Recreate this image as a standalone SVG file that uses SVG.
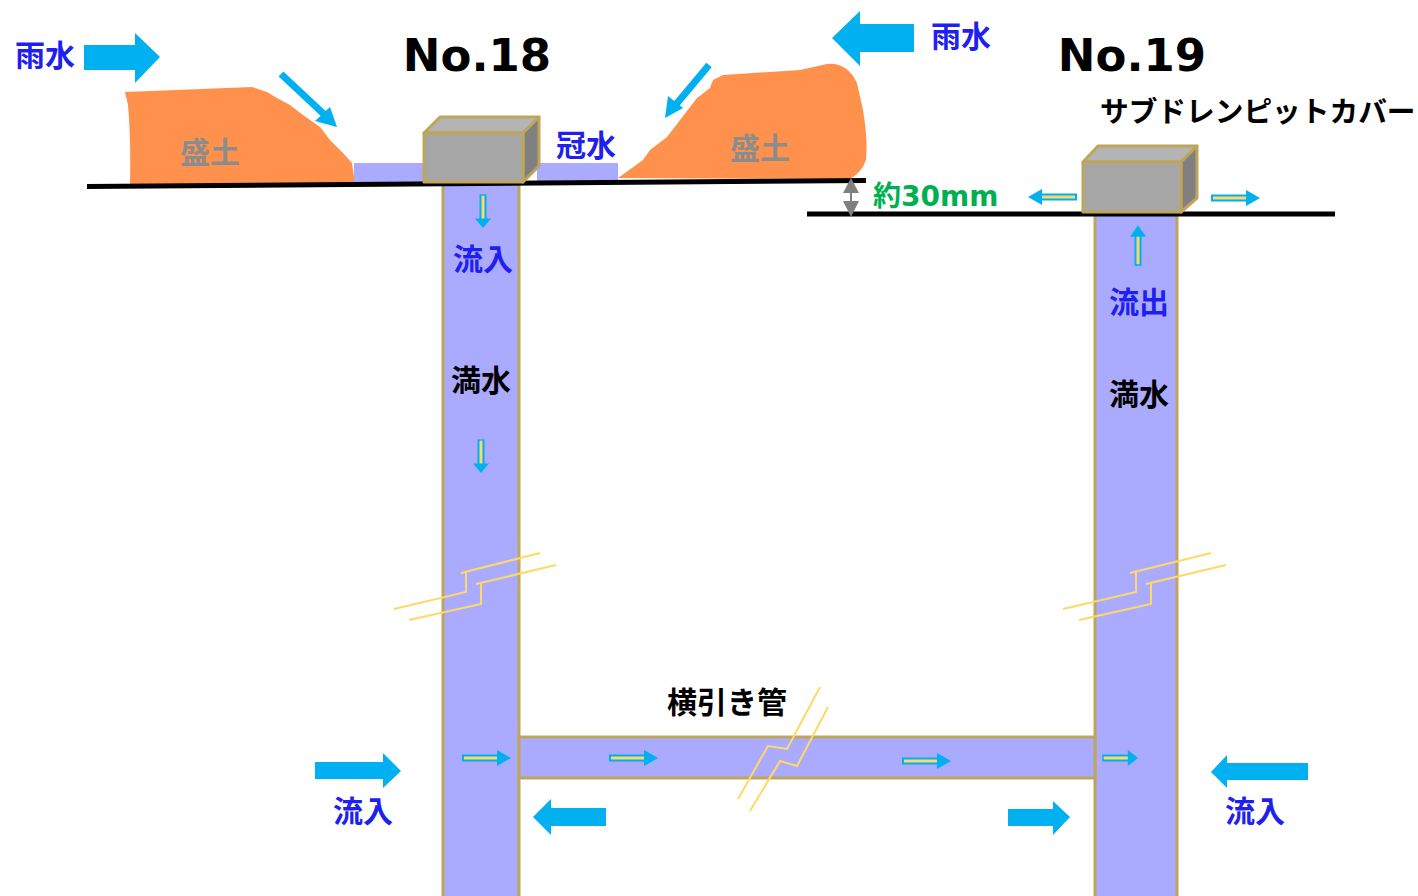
<svg xmlns="http://www.w3.org/2000/svg" width="1418" height="896" viewBox="0 0 1418 896">
  <style>
    .t { font-family: "DejaVu Sans", "Noto Sans CJK JP", sans-serif; font-weight: bold; }
    .blue { fill: #1f1ff0; font-size: 30px; text-anchor: middle; }
    .black { fill: #000; font-size: 30px; text-anchor: middle; }
    .soil-label { fill: #8c8c8c; font-size: 30px; text-anchor: middle; }
    .title { fill: #000; font-size: 45px; text-anchor: middle; }
    .pipe { fill: #aaaaff; stroke: #bfa55a; stroke-width: 3; }
    .water { fill: #aaaaff; }
    .soil { fill: #ff914d; }
    .ground { stroke: #000; stroke-width: 5; fill: none; }
    .big { fill: #00b0f0; }
    .brk { fill: none; stroke: #ffd966; stroke-width: 2; }
    .box-front { fill: #a6a6a6; stroke: #bfa55a; stroke-width: 3; stroke-linejoin: round; }
    .box-top { fill: #b4b4b4; stroke: #bfa55a; stroke-width: 3; stroke-linejoin: round; }
    .box-side { fill: #808080; stroke: #bfa55a; stroke-width: 3; stroke-linejoin: round; }
  </style>
  <defs>
    <!-- small double-line flow arrow pointing right, 48 long -->
    <g id="flow">
      <rect x="0" y="-2.5" width="36" height="5" fill="#ffd966" stroke="#00b0f0" stroke-width="2"/>
      <polygon points="34,-8 48,0 34,8" fill="#00b0f0"/>
    </g>
  </defs>

  <!-- soil mounds -->
  <g id="soil-left">
    <path class="soil" d="M125,92 L252,87 L267,92 L277,98 L290,105 L303,115 L320,127 L330,140 L343,153 L352,163 L354,177 L354,184 L130,184 Q131,140 128,105 Z"/>
    <text class="t soil-label" x="210" y="163">盛土</text>
  </g>
  <g id="soil-right">
    <path class="soil" d="M618,178 L643,160 L650,150 L667,137 L680,120 L697,98 L710,88 L713,80 L723,75 L800,70 L827,64 Q847,62 857,83 L863,110 Q868,140 866,160 Q862,172 850,179 Z"/>
    <text class="t soil-label" x="760" y="159">盛土</text>
  </g>

  <!-- ponding water beside the No.18 cover -->
  <g id="ponding">
    <rect class="water" x="354" y="163" width="70" height="20"/>
    <rect class="water" x="537" y="163" width="81" height="18"/>
    <text class="t blue" x="586" y="156">冠水</text>
  </g>

  <!-- pipes -->
  <g id="pipe-left">
    <rect class="pipe" x="443" y="184" width="76" height="730"/>
  </g>
  <g id="pipe-right">
    <rect class="pipe" x="1095" y="212" width="82" height="700"/>
  </g>
  <g id="pipe-horizontal">
    <rect class="pipe" x="519" y="737" width="576" height="41"/>
  </g>

  <!-- ground lines -->
  <g id="ground">
    <line class="ground" x1="87" y1="186.5" x2="866" y2="180.5"/>
    <line class="ground" x1="807" y1="214" x2="1335" y2="214"/>
  </g>

  <!-- No.18 cover -->
  <g id="cover-18">
    <polygon class="box-top" points="424,133 440,117 539,117 523,133"/>
    <polygon class="box-side" points="523,133 539,117 539,166 523,182"/>
    <rect class="box-front" x="424" y="133" width="99" height="49"/>
    <text class="t title" x="477" y="71">No.18</text>
  </g>

  <!-- No.19 cover -->
  <g id="cover-19">
    <polygon class="box-top" points="1083,162 1098,146 1197,146 1181,162"/>
    <polygon class="box-side" points="1181,162 1197,146 1197,198 1181,212"/>
    <rect class="box-front" x="1083" y="162" width="98" height="50"/>
    <text class="t title" x="1132" y="71">No.19</text>
    <text class="t" x="1100" y="122" font-size="28.7" fill="#000">サブドレンピットカバー</text>
  </g>

  <!-- level difference -->
  <g id="level-diff">
    <line x1="851" y1="186" x2="851" y2="210" stroke="#7f7f7f" stroke-width="2"/>
    <polygon points="851,178 859,193 843,193" fill="#7f7f7f"/>
    <polygon points="843,201 859,201 851,217" fill="#7f7f7f"/>
    <text class="t" x="873" y="206" font-size="28" fill="#00b050">約30mm</text>
  </g>

  <!-- rain -->
  <g id="rain-left">
    <text class="t blue" x="45" y="66">雨水</text>
    <polygon class="big" points="84,45 135,45 135,33 160,57 135,83 135,70 84,70"/>
  </g>
  <g id="rain-right">
    <polygon class="big" points="914,24 860,24 860,11 832,38 860,66 860,52 914,52"/>
    <text class="t blue" x="961" y="47">雨水</text>
  </g>

  <!-- break marks -->
  <g id="breaks">
    <polyline class="brk" points="394,609 466,592 466,572"/>
    <line class="brk" x1="461" y1="573" x2="540" y2="553"/>
    <polyline class="brk" points="409,620 481,604 481,583"/>
    <line class="brk" x1="476" y1="584" x2="556" y2="565"/>
    <polyline class="brk" points="1063,609 1136,592 1136,572"/>
    <line class="brk" x1="1130" y1="573" x2="1211" y2="553"/>
    <polyline class="brk" points="1079,620 1151,604 1151,583"/>
    <line class="brk" x1="1146" y1="584" x2="1226" y2="565"/>
    <polyline class="brk" points="820,687 787,749 768,746 738,799"/>
    <polyline class="brk" points="828,707 797,766 780,761 750,811"/>
  </g>

  <!-- labels inside pipes -->
  <g id="labels">
    <text class="t blue" x="483" y="270">流入</text>
    <text class="t black" x="481" y="391">満水</text>
    <text class="t blue" x="1139" y="313">流出</text>
    <text class="t black" x="1139" y="405">満水</text>
    <text class="t black" x="727" y="713">横引き管</text>
    <text class="t blue" x="363" y="822">流入</text>
    <text class="t blue" x="1255" y="822">流入</text>
  </g>

  <!-- flows -->
  <g id="connectors">
    <!-- surface run-off -->
    <g stroke="#00b0f0" stroke-width="7" fill="none">
      <line x1="281" y1="74" x2="328" y2="118"/>
      <line x1="709" y1="65" x2="673" y2="108"/>
    </g>
    <polygon class="big" points="337,127 315,121 330,107" />
    <polygon class="big" points="665,118 668,96 683,108" />

    <!-- water movement in pipes -->
    <use href="#flow" transform="translate(483,195) rotate(90) scale(0.69,1)"/>
    <use href="#flow" transform="translate(481,440) rotate(90) scale(0.69,1)"/>
    <use href="#flow" transform="translate(1138,265) rotate(-90) scale(0.83,1)"/>
    <use href="#flow" transform="translate(463,758)"/>
    <use href="#flow" transform="translate(610,758)"/>
    <use href="#flow" transform="translate(903,761)"/>
    <use href="#flow" transform="translate(1103,758) scale(0.73,1)"/>
    <use href="#flow" transform="translate(1076,197) rotate(180)"/>
    <use href="#flow" transform="translate(1212,198)"/>

    <!-- inflow / outflow around the pits -->
    <polygon class="big" points="315,762 383,762 383,753 401,771 383,788 383,779 315,779"/>
    <polygon class="big" points="606,808 551,808 551,799 533,817 551,835 551,826 606,826"/>
    <polygon class="big" points="1008,809 1053,809 1053,801 1070,817 1053,835 1053,826 1008,826"/>
    <polygon class="big" points="1308,763 1227,763 1227,755 1211,772 1227,788 1227,780 1308,780"/>
  </g>
</svg>
